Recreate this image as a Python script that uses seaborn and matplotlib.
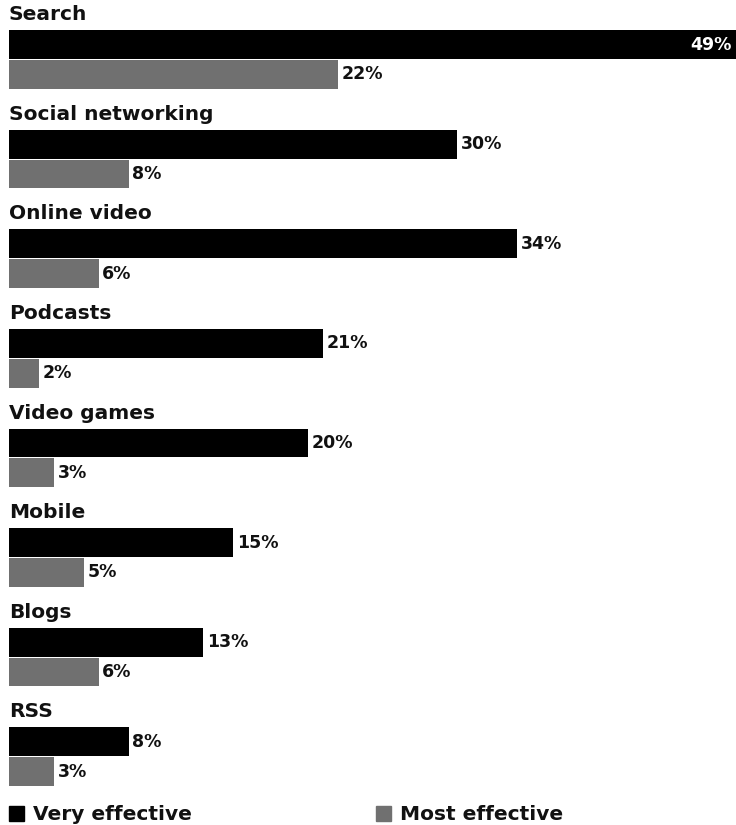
import matplotlib
matplotlib.use("Agg")
import matplotlib.pyplot as plt
import seaborn as sns
import pandas as pd
from matplotlib.patches import Rectangle

# Share of respondents rating each channel
categories = ["Search", "Social networking", "Online video", "Podcasts",
              "Video games", "Mobile", "Blogs", "RSS"]
very_effective = [49, 30, 34, 21, 20, 15, 13, 8]
most_effective = [22, 8, 6, 2, 3, 5, 6, 3]
series_names = ["Very effective", "Most effective"]
colors = ["#000000", "#707070"]

df = pd.DataFrame({
    "channel": categories * 2,
    "share": very_effective + most_effective,
    "rating": [series_names[0]] * len(categories) + [series_names[1]] * len(categories),
})

sns.set_theme(style="white")
plt.rcParams["font.family"] = ["DejaVu Sans"]

W, H = 736, 825
fig = plt.figure(figsize=(W / 100, H / 100), dpi=100)
ax = fig.add_axes([9 / W, 1 - 790 / H, 1 - 9 / W, 790 / H])

sns.barplot(data=df, y="channel", x="share", hue="rating", orient="h",
            palette=colors, order=categories, hue_order=series_names,
            width=0.6, gap=0.04, legend=False, saturation=1, ax=ax,
            linewidth=0)

ax.set_xlim(0, 727 / 14.94)
ax.set_ylim((790 - 59.5) / 99.6, -59.5 / 99.6)
ax.axis("off")

label_kw = dict(fontsize=12.5, fontweight="bold", va="center")
for i, name in enumerate(categories):
    ax.text(0, i - 0.45, name, ha="left", fontsize=14.5, fontweight="bold",
            va="center", color="#111111")
    v = very_effective[i]
    if v > 45:
        # the longest bar runs past the frame, so its label sits inside
        ax.text(48.35, i - 0.15, f"{v}%", ha="right", color="white", **label_kw)
    else:
        ax.text(v + 0.25, i - 0.15, f"{v}%", ha="left", color="#111111", **label_kw)
    m = most_effective[i]
    ax.text(m + 0.25, i + 0.15, f"{m}%", ha="left", color="#111111", **label_kw)

# Legend row along the bottom
ly = 1 - 814 / H
for x0, name, c in [(9, series_names[0], colors[0]), (376, series_names[1], colors[1])]:
    fig.patches.append(Rectangle((x0 / W, ly - 7 / H), 15 / W, 15 / H,
                                 transform=fig.transFigure, color=c))
    fig.text((x0 + 24) / W, ly, name, fontsize=14.5, fontweight="bold",
             va="center", ha="left", color="#111111")

fig.savefig("out.png", dpi=100)
